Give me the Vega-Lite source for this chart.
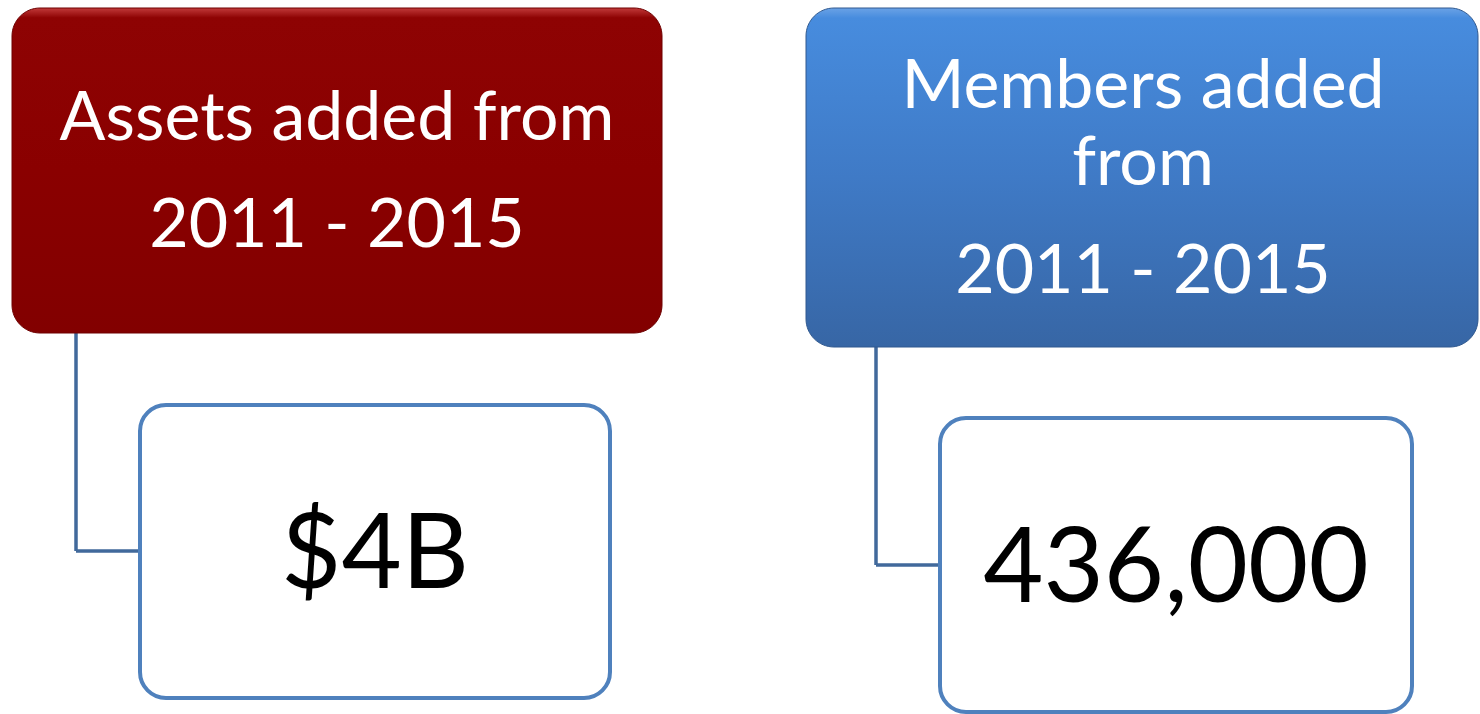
{
  "$schema": "https://vega.github.io/schema/vega-lite/v6.json",
  "autosize": {"type": "fit", "contains": "padding"},
  "width": 1480,
  "height": 714,
  "padding": 0,
  "background": "white",
  "config": {"view": {"stroke": null}},
  "datasets": {
    "boxes": [
      {"box": "assets", "x0": 12, "x1": 662, "y0": 8, "y1": 333},
      {"box": "members", "x0": 806, "x1": 1478, "y0": 8, "y1": 347},
      {"box": "assetsValue", "x0": 140, "x1": 610, "y0": 405, "y1": 698},
      {"box": "membersValue", "x0": 940, "x1": 1412, "y0": 418, "y1": 712}
    ],
    "links": [
      {"x0": 76, "x1": 76, "y0": 333, "y1": 551},
      {"x0": 76, "x1": 140, "y0": 551, "y1": 551},
      {"x0": 876, "x1": 876, "y0": 347, "y1": 565},
      {"x0": 876, "x1": 940, "y0": 565, "y1": 565}
    ],
    "labels": [
      {"role": "header", "x": 337, "y": 140, "text": "Assets added from"},
      {"role": "header", "x": 337, "y": 247, "text": "2011 - 2015"},
      {"role": "header", "x": 1143, "y": 108, "text": "Members added"},
      {"role": "header", "x": 1143, "y": 185, "text": "from"},
      {"role": "header", "x": 1143, "y": 293, "text": "2011 - 2015"},
      {"role": "value", "x": 375, "y": 588, "text": "$4B"},
      {"role": "value", "x": 1176, "y": 602, "text": "436,000"}
    ]
  },
  "layer": [
    {
      "data": {"name": "links"},
      "mark": {"type": "rule", "color": "#41699b", "strokeWidth": 3.5},
      "encoding": {
        "x": {"field": "x0", "type": "quantitative", "scale": {"domain": [0, 1480], "nice": false, "zero": false}, "axis": null},
        "x2": {"field": "x1"},
        "y": {"field": "y0", "type": "quantitative", "scale": {"domain": [0, 714], "nice": false, "zero": false, "reverse": true}, "axis": null},
        "y2": {"field": "y1"}
      }
    },
    {
      "data": {"name": "boxes"},
      "transform": [{"filter": "datum.box === 'assets' || datum.box === 'members'"}],
      "mark": {"type": "rect", "fill": "#000000", "opacity": 0.22, "cornerRadius": 28, "xOffset": 2, "yOffset": 5},
      "encoding": {
        "x": {"field": "x0", "type": "quantitative", "scale": {"domain": [0, 1480], "nice": false, "zero": false}, "axis": null},
        "x2": {"field": "x1"},
        "y": {"field": "y0", "type": "quantitative", "scale": {"domain": [0, 714], "nice": false, "zero": false, "reverse": true}, "axis": null},
        "y2": {"field": "y1"}
      }
    },
    {
      "data": {"name": "boxes"},
      "transform": [{"filter": "datum.box === 'assets'"}],
      "mark": {
        "type": "rect",
        "cornerRadius": 28,
        "stroke": "#6e0000",
        "strokeWidth": 1,
        "fill": {
          "gradient": "linear", "x1": 0, "y1": 0, "x2": 0, "y2": 1,
          "stops": [
            {"offset": 0, "color": "#c23a3a"},
            {"offset": 0.03, "color": "#8e0303"},
            {"offset": 0.5, "color": "#8a0000"},
            {"offset": 1, "color": "#820000"}
          ]
        }
      },
      "encoding": {
        "x": {"field": "x0", "type": "quantitative", "scale": {"domain": [0, 1480], "nice": false, "zero": false}, "axis": null},
        "x2": {"field": "x1"},
        "y": {"field": "y0", "type": "quantitative", "scale": {"domain": [0, 714], "nice": false, "zero": false, "reverse": true}, "axis": null},
        "y2": {"field": "y1"}
      }
    },
    {
      "data": {"name": "boxes"},
      "transform": [{"filter": "datum.box === 'members'"}],
      "mark": {
        "type": "rect",
        "cornerRadius": 28,
        "stroke": "#30598f",
        "strokeWidth": 1,
        "fill": {
          "gradient": "linear", "x1": 0, "y1": 0, "x2": 0, "y2": 1,
          "stops": [
            {"offset": 0, "color": "#6aa2e6"},
            {"offset": 0.03, "color": "#478cde"},
            {"offset": 0.5, "color": "#3f7ac6"},
            {"offset": 1, "color": "#3766a5"}
          ]
        }
      },
      "encoding": {
        "x": {"field": "x0", "type": "quantitative", "scale": {"domain": [0, 1480], "nice": false, "zero": false}, "axis": null},
        "x2": {"field": "x1"},
        "y": {"field": "y0", "type": "quantitative", "scale": {"domain": [0, 714], "nice": false, "zero": false, "reverse": true}, "axis": null},
        "y2": {"field": "y1"}
      }
    },
    {
      "data": {"name": "boxes"},
      "transform": [{"filter": "datum.box === 'assetsValue' || datum.box === 'membersValue'"}],
      "mark": {"type": "rect", "cornerRadius": 26, "fill": "#ffffff", "stroke": "#4f81bd", "strokeWidth": 4},
      "encoding": {
        "x": {"field": "x0", "type": "quantitative", "scale": {"domain": [0, 1480], "nice": false, "zero": false}, "axis": null},
        "x2": {"field": "x1"},
        "y": {"field": "y0", "type": "quantitative", "scale": {"domain": [0, 714], "nice": false, "zero": false, "reverse": true}, "axis": null},
        "y2": {"field": "y1"}
      }
    },
    {
      "data": {"name": "labels"},
      "transform": [{"filter": "datum.role === 'header'"}],
      "mark": {"type": "text", "font": "Lato", "fontSize": 68, "color": "#ffffff", "align": "center", "baseline": "alphabetic"},
      "encoding": {
        "x": {"field": "x", "type": "quantitative", "scale": {"domain": [0, 1480], "nice": false, "zero": false}, "axis": null},
        "y": {"field": "y", "type": "quantitative", "scale": {"domain": [0, 714], "nice": false, "zero": false, "reverse": true}, "axis": null},
        "text": {"field": "text"}
      }
    },
    {
      "data": {"name": "labels"},
      "transform": [{"filter": "datum.role === 'value'"}],
      "mark": {"type": "text", "font": "Lato", "fontSize": 104, "color": "#000000", "align": "center", "baseline": "alphabetic"},
      "encoding": {
        "x": {"field": "x", "type": "quantitative", "scale": {"domain": [0, 1480], "nice": false, "zero": false}, "axis": null},
        "y": {"field": "y", "type": "quantitative", "scale": {"domain": [0, 714], "nice": false, "zero": false, "reverse": true}, "axis": null},
        "text": {"field": "text"}
      }
    }
  ]
}
